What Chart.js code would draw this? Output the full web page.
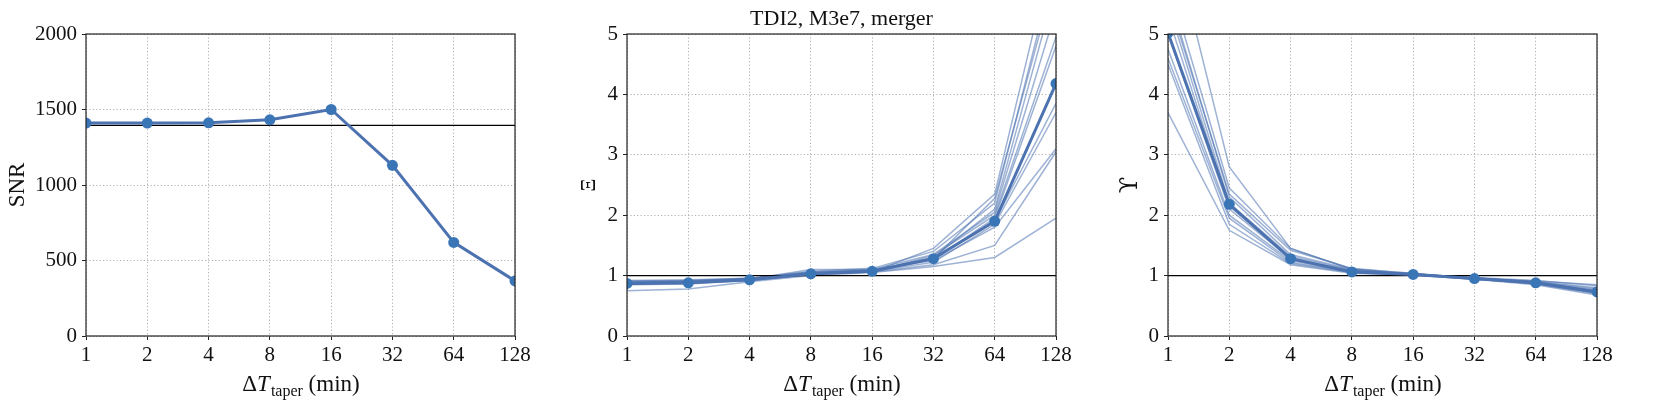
<!DOCTYPE html>
<html>
<head>
<meta charset="utf-8">
<script src="https://cdn.jsdelivr.net/npm/chart.js@4"></script>
<style>
  body { margin: 0; background: #fff; }
  #wrap { position: relative; width: 1660px; height: 407px; }
  canvas { position: absolute; left: 0; top: 0; }
</style>
</head>
<body>
<div id="wrap">
  <canvas id="c1" width="1660" height="407"></canvas>
  <canvas id="c2" width="1660" height="407"></canvas>
  <canvas id="c3" width="1660" height="407"></canvas>
</div>
<script>
// taper durations (min)
const taper = ['1', '2', '4', '8', '16', '32', '64', '128'];

// SNR panel
const snr = [1410, 1410, 1412, 1432, 1500, 1130, 620, 365];
const snrRef = 1395;

// Xi panel
const xiMain = [0.87, 0.88, 0.93, 1.03, 1.07, 1.28, 1.90, 4.18];
const xiRuns = [
  [0.75, 0.78, 0.90, 1.00, 1.05, 1.15, 1.30, 1.95],
  [0.85, 0.86, 0.92, 1.02, 1.06, 1.18, 1.50, 3.05],
  [0.88, 0.89, 0.94, 1.10, 1.10, 1.25, 1.80, 3.10],
  [0.86, 0.87, 0.93, 1.03, 1.07, 1.22, 1.85, 3.70],
  [0.89, 0.90, 0.95, 1.04, 1.08, 1.30, 1.90, 3.85],
  [0.90, 0.91, 0.94, 1.05, 1.09, 1.27, 1.95, 4.80],
  [0.87, 0.88, 0.92, 1.02, 1.07, 1.33, 2.00, 4.95],
  [0.91, 0.92, 0.96, 1.06, 1.10, 1.35, 2.05, 5.40],
  [0.88, 0.90, 0.93, 1.04, 1.08, 1.30, 2.10, 5.80],
  [0.92, 0.93, 0.95, 1.07, 1.12, 1.40, 2.20, 6.20],
  [0.86, 0.88, 0.94, 1.03, 1.06, 1.45, 2.35, 6.60],
  [0.89, 0.91, 0.95, 1.05, 1.09, 1.28, 2.28, 6.00]
];

// Upsilon panel
const upMain = [5.02, 2.18, 1.28, 1.06, 1.02, 0.95, 0.88, 0.73];
const upRuns = [
  [3.70, 1.75, 1.18, 1.04, 1.01, 0.96, 0.90, 0.80],
  [4.50, 1.85, 1.20, 1.05, 1.02, 0.95, 0.88, 0.75],
  [4.60, 1.95, 1.22, 1.06, 1.02, 0.94, 0.87, 0.72],
  [4.75, 2.00, 1.25, 1.07, 1.03, 0.95, 0.86, 0.70],
  [5.00, 2.10, 1.28, 1.08, 1.02, 0.96, 0.89, 0.74],
  [5.30, 2.15, 1.30, 1.06, 1.01, 0.94, 0.85, 0.68],
  [5.50, 2.20, 1.32, 1.09, 1.03, 0.95, 0.87, 0.71],
  [5.70, 2.30, 1.35, 1.10, 1.02, 0.97, 0.92, 0.83],
  [5.60, 2.35, 1.42, 1.12, 1.03, 0.96, 0.90, 0.78],
  [5.90, 2.45, 1.45, 1.11, 1.04, 0.95, 0.91, 0.85],
  [6.90, 2.80, 1.45, 1.10, 1.02, 0.94, 0.88, 0.76]
];

const FONT = '"Liberation Serif", "DejaVu Serif", serif';
const BLUE = '#4C72B0';
const DOT = '#3A76B6';
const THIN = 'rgba(76,114,176,0.55)';

// frame, axis titles and panel title
const decor = {
  id: 'decor',
  afterDraw(chart, args, o) {
    const ctx = chart.ctx, a = chart.chartArea;
    ctx.save();
    ctx.strokeStyle = '#222';
    ctx.lineWidth = 1.2;
    ctx.strokeRect(a.left, a.top, a.right - a.left, a.bottom - a.top);

    ctx.fillStyle = '#111';
    ctx.textBaseline = 'alphabetic';
    // x title: ΔT_taper (min)
    const big = '23px ' + FONT, itl = 'italic 23px ' + FONT, sub = '16px ' + FONT;
    const parts = [['\u0394', big, 0], ['T', itl, 0], ['taper', sub, 5], [' (min)', big, 0]];
    let w = 0;
    parts.forEach(p => { ctx.font = p[1]; w += ctx.measureText(p[0]).width; });
    let x = (a.left + a.right) / 2 - w / 2;
    parts.forEach(p => {
      ctx.font = p[1];
      ctx.textAlign = 'left';
      ctx.fillText(p[0], x, 391 + p[2]);
      x += ctx.measureText(p[0]).width + (p[0] === 'T' ? 1 : 0);
    });

    // y title
    ctx.save();
    ctx.translate(o.yx, 185);
    ctx.rotate(-Math.PI / 2);
    ctx.font = o.yfont || big;
    ctx.textAlign = 'center';
    ctx.textBaseline = 'middle';
    ctx.fillText(o.ytitle, 0, 0);
    ctx.restore();

    if (o.title) {
      ctx.font = '22px ' + FONT;
      ctx.textAlign = 'center';
      ctx.textBaseline = 'middle';
      ctx.fillText(o.title, (a.left + a.right) / 2, 19);
    }
    ctx.restore();
  }
};

function panel(id, L, R, ymax, step, mainData, ref, runs, ytitle, yx, yfont, title) {
  const datasets = [
    { data: mainData, borderColor: BLUE, borderWidth: 3, pointRadius: 5.5,
      pointBackgroundColor: DOT, pointBorderColor: DOT, pointBorderWidth: 0, clip: 0 },
    { data: taper.map(() => ref), borderColor: '#000', borderWidth: 1.3, pointRadius: 0, clip: 0 }
  ];
  runs.forEach(r => datasets.push({ data: r, borderColor: THIN, borderWidth: 1.5, pointRadius: 0, clip: 0 }));

  new Chart(document.getElementById(id), {
    type: 'line',
    data: { labels: taper, datasets: datasets },
    options: {
      responsive: false,
      animation: false,
      events: [],
      devicePixelRatio: 1,
      layout: { padding: { left: L - 60, right: 1660 - R, top: 34, bottom: 407 - 336 - 40 } },
      plugins: { legend: { display: false }, tooltip: { enabled: false },
                 decor: { ytitle: ytitle, yx: yx, yfont: yfont, title: title } },
      scales: {
        x: {
          type: 'category', offset: false,
          afterFit(s) { s.height = 40; },
          grid: { color: '#b0b0b0', lineWidth: 1, tickLength: 4, tickColor: '#222', tickWidth: 1 },
          border: { display: false, dash: [1.2, 2.2] },
          ticks: { color: '#111', font: { family: FONT, size: 21 }, padding: 3, maxRotation: 0, autoSkip: false }
        },
        y: {
          min: 0, max: ymax,
          afterFit(s) { s.width = 60; },
          grid: { color: '#b0b0b0', lineWidth: 1, tickLength: 4, tickColor: '#222', tickWidth: 1 },
          border: { display: false, dash: [1.2, 2.2] },
          ticks: { stepSize: step, color: '#111', font: { family: FONT, size: 21 }, padding: 5,
                   callback: v => String(v) }
        }
      }
    },
    plugins: [decor]
  });
}

panel('c1', 86, 515, 2000, 500, snr, snrRef, [], 'SNR', 18, null, null);
panel('c2', 627, 1056, 5, 1, xiMain, 1, xiRuns, '\u039E', 590, '20px ' + FONT, 'TDI2, M3e7, merger');
panel('c3', 1168, 1597, 5, 1, upMain, 1, upRuns, '\u03D2', 1131, '24px "DejaVu Serif", serif', null);
</script>
</body>
</html>
